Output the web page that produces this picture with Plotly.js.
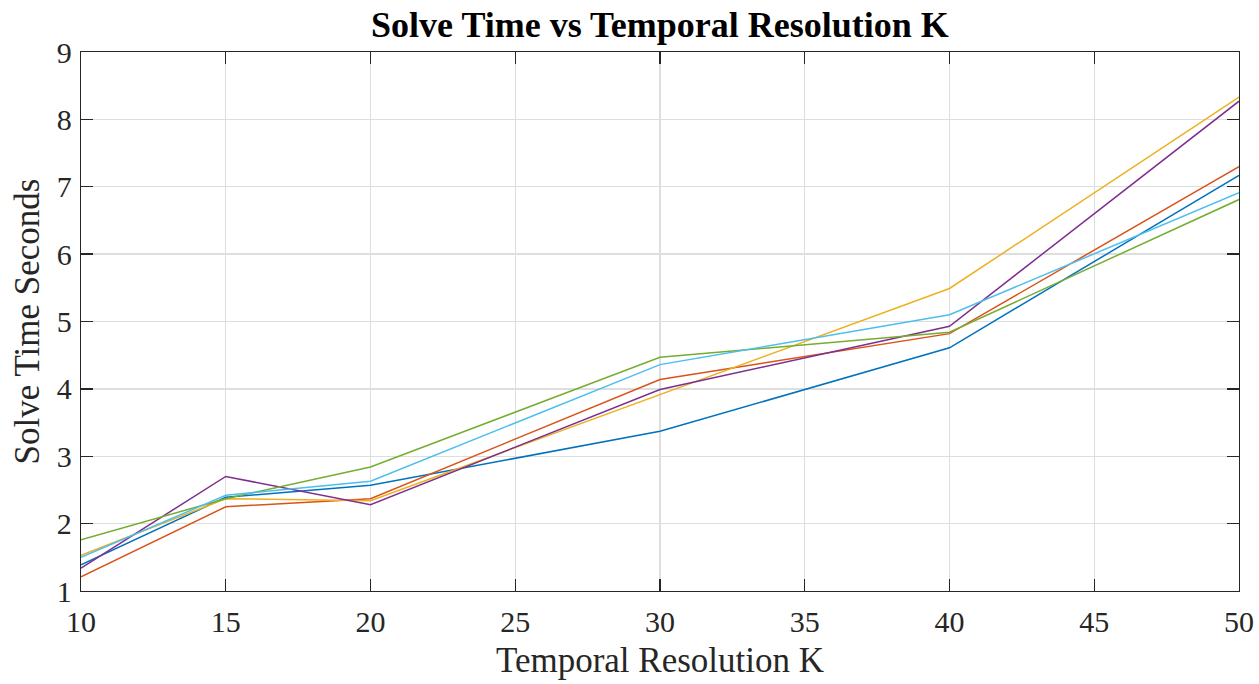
<!DOCTYPE html>
<html>
<head>
<meta charset="utf-8">
<script src="https://cdn.plot.ly/plotly-3.0.1.min.js"></script>
<style>
  html, body { margin: 0; padding: 0; background: #ffffff; }
  #chart { width: 1259px; height: 684px; }
</style>
</head>
<body>
<div id="chart"></div>
<script>
// Temporal resolution values (K) at which the solver was timed
const resolutionK = [10, 15, 20, 30, 40, 50];

// Solve time in seconds for each of the six runs
const run1 = [1.39, 2.39, 2.57, 3.37, 4.61, 7.17];
const run2 = [1.21, 2.25, 2.37, 4.14, 4.82, 7.30];
const run3 = [1.53, 2.37, 2.34, 3.91, 5.49, 8.33];
const run4 = [1.34, 2.70, 2.28, 3.99, 4.93, 8.27];
const run5 = [1.76, 2.37, 2.84, 4.47, 4.84, 6.81];
const run6 = [1.50, 2.42, 2.63, 4.36, 5.10, 6.91];

const seriesValues = [run1, run2, run3, run4, run5, run6];
const seriesColors = ['#0072BD', '#D95319', '#EDB120', '#7E2F8E', '#77AC30', '#4DBEEE'];

const xTicks = [10, 15, 20, 25, 30, 35, 40, 45, 50];
const yTicks = [1, 2, 3, 4, 5, 6, 7, 8, 9];

const serif = 'Liberation Serif, Times New Roman, serif';
const ink = '#262626';

const traces = seriesValues.map((vals, i) => ({
  x: resolutionK,
  y: vals,
  type: 'scatter',
  mode: 'lines',
  line: { color: seriesColors[i], width: 1.5 },
  showlegend: false,
  hoverinfo: 'x+y'
}));

const axisCommon = {
  showline: true,
  linecolor: ink,
  linewidth: 1.3,
  mirror: 'ticks',
  ticks: 'inside',
  ticklen: 12,
  tickwidth: 1.3,
  tickcolor: ink,
  showgrid: true,
  gridcolor: '#dedede',
  gridwidth: 1.4,
  zeroline: false,
  tickfont: { family: serif, size: 30, color: ink }
};

const layout = {
  width: 1259,
  height: 684,
  margin: { l: 81, r: 20, t: 52, b: 93 },
  paper_bgcolor: '#ffffff',
  plot_bgcolor: '#ffffff',
  title: {
    text: '<b>Solve Time vs Temporal Resolution K</b>',
    font: { family: serif, size: 36, color: '#000000' },
    x: 0.5242,
    xanchor: 'center',
    y: 0.965,
    yanchor: 'middle'
  },
  xaxis: Object.assign({}, axisCommon, {
    range: [10, 50],
    tickvals: xTicks,
    ticktext: xTicks.map(String),
    ticklabelstandoff: 4,
    title: { text: 'Temporal Resolution K', font: { family: serif, size: 35, color: ink }, standoff: 10 }
  }),
  yaxis: Object.assign({}, axisCommon, {
    range: [1, 9],
    tickvals: yTicks,
    ticktext: yTicks.map(String),
    ticklabelstandoff: 2,
    title: { text: 'Solve Time Seconds', font: { family: serif, size: 35, color: ink }, standoff: 6 }
  })
};

Plotly.newPlot('chart', traces, layout, { displayModeBar: false, staticPlot: true });
</script>
</body>
</html>
